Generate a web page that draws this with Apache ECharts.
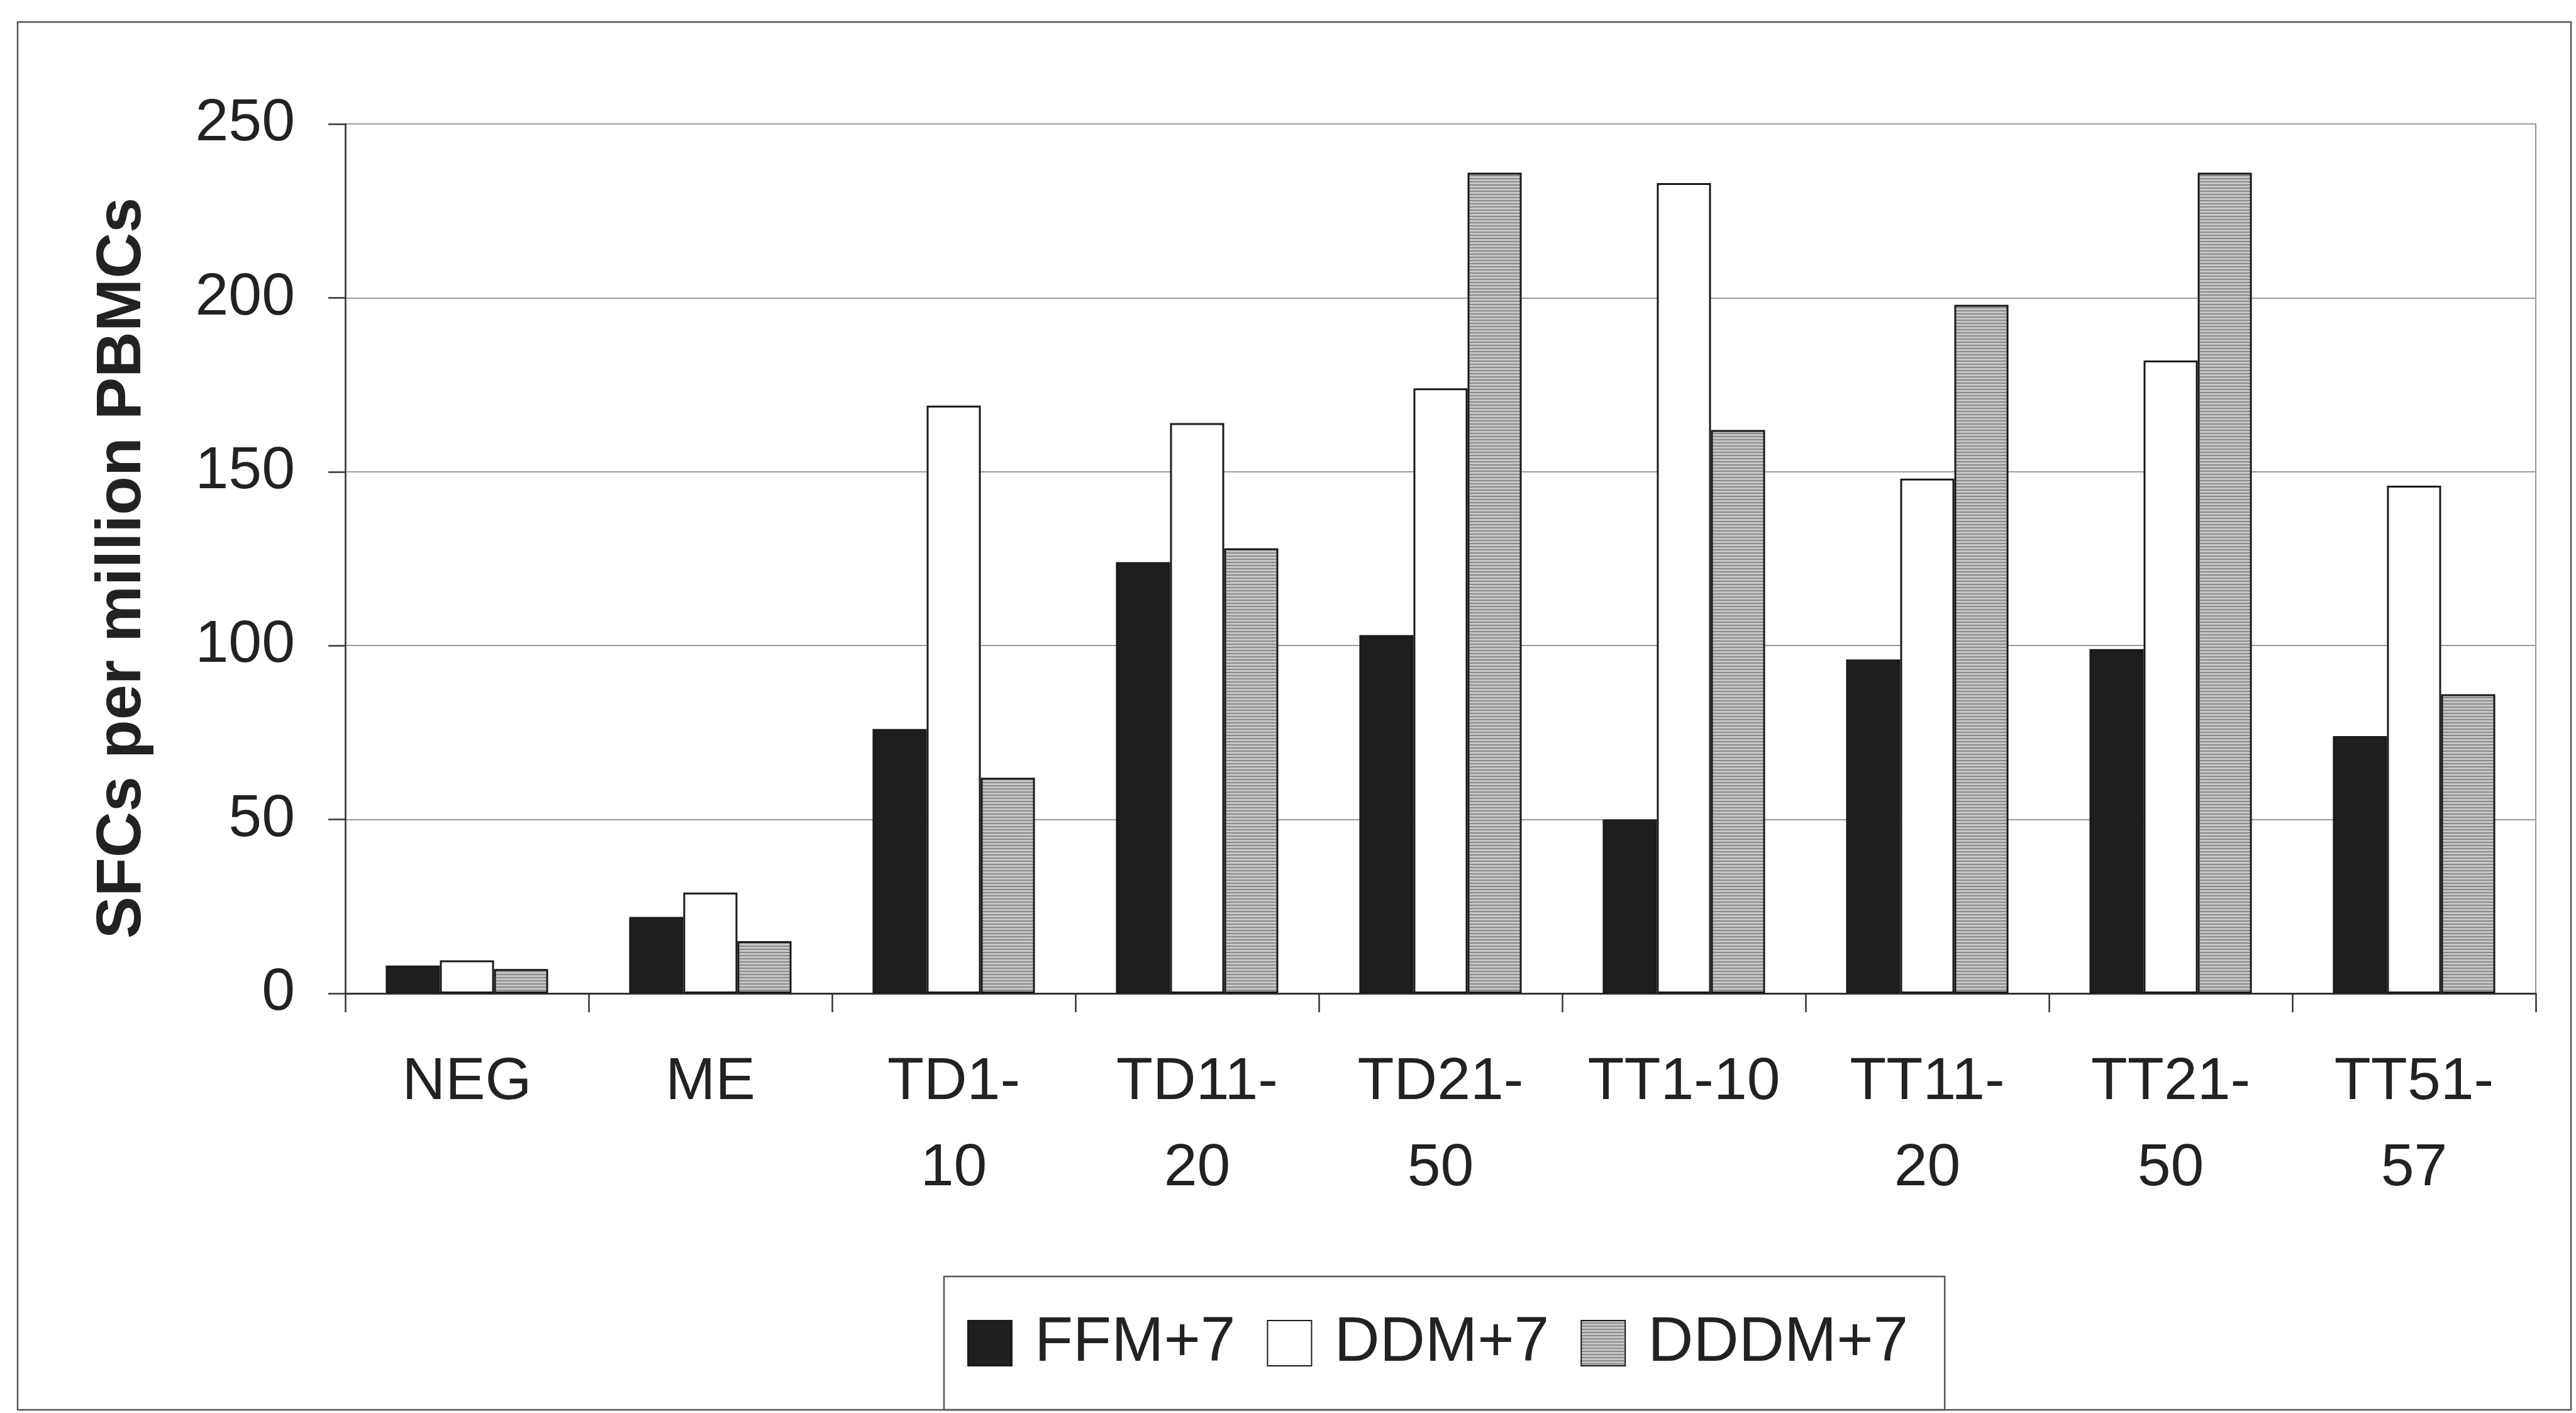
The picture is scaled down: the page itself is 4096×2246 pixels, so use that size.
<!DOCTYPE html>
<html>
<head>
<meta charset="utf-8">
<style>
  html, body { margin: 0; padding: 0; background: #ffffff; }
  #chart { width: 4096px; height: 2246px; }
</style>
<script src="https://cdn.jsdelivr.net/npm/echarts@6/dist/echarts.min.js"></script>
</head>
<body>
<div id="chart"></div>
<script>
// ---- data ----
const categories = ['NEG', 'ME', 'TD1-\n10', 'TD11-\n20', 'TD21-\n50', 'TT1-10', 'TT11-\n20', 'TT21-\n50', 'TT51-\n57'];
const seriesNames = ['FFM+7', 'DDM+7', 'DDDM+7'];
const ffm  = [8, 22, 76, 124, 103, 50, 96, 99, 74];
const ddm  = [9.5, 29, 169, 164, 174, 233, 148, 182, 146];
const dddm = [7, 15, 62, 128, 236, 162, 198, 236, 86];
const yTicks = { min: 0, max: 250, interval: 50 };
const yTitle = 'SFCs per million PBMCs';

// ---- striped fill for DDDM+7 ----
const pat = document.createElement('canvas');
pat.width = 4; pat.height = 5;
const pctx = pat.getContext('2d');
pctx.fillStyle = '#c6c6c6'; pctx.fillRect(0, 0, 4, 5);
pctx.fillStyle = '#8a8a8a'; pctx.fillRect(0, 3, 4, 2);

const FONT = '"Liberation Sans", Arial, sans-serif';
const chart = echarts.init(document.getElementById('chart'), null, { renderer: 'canvas' });

const barBase = { type: 'bar', barGap: '0%', barCategoryGap: '33.3%' };
const border = { borderColor: '#1a1a1a', borderWidth: 3 };

chart.setOption({
  animation: false,
  backgroundColor: '#ffffff',
  textStyle: { fontFamily: FONT },
  grid: {
    left: 549, right: 64, top: 197, bottom: 667,
    show: true, borderColor: '#9a9a9a', borderWidth: 2, backgroundColor: 'transparent'
  },
  legend: {
    data: seriesNames,
    icon: 'rect',
    left: 1501, top: 2029,
    orient: 'horizontal',
    itemWidth: 70, itemHeight: 72, itemGap: 50,
    padding: [56, 58, 56, 37],
    borderColor: '#555', borderWidth: 2.5,
    textStyle: { fontFamily: FONT, fontSize: 100, color: '#222', padding: [0, 0, 0, 31] }
  },
  xAxis: {
    type: 'category',
    data: categories,
    axisLine: { lineStyle: { color: '#333', width: 3 } },
    axisTick: { show: true, length: 30, lineStyle: { color: '#333', width: 2.5 } },
    axisLabel: { fontFamily: FONT, fontSize: 95, color: '#222', margin: 73, lineHeight: 137, interval: 0, align: 'center' },
    splitLine: { show: false }
  },
  yAxis: {
    type: 'value',
    min: yTicks.min, max: yTicks.max, interval: yTicks.interval,
    axisLine: { show: true, lineStyle: { color: '#333', width: 2.5 } },
    axisTick: { show: true, length: 27, lineStyle: { color: '#333', width: 2.5 } },
    axisLabel: { fontFamily: FONT, fontSize: 95, color: '#222', margin: 80 },
    splitLine: { show: true, lineStyle: { color: '#9a9a9a', width: 2 } }
  },
  graphic: [
    {
      type: 'rect', silent: true, z: -1,
      shape: { x: 28, y: 35, width: 4060, height: 2206 },
      style: { fill: 'none', stroke: '#555', lineWidth: 2.5 }
    },
    {
      type: 'text', silent: true,
      x: 195, y: 903, rotation: Math.PI / 2,
      style: {
        text: yTitle, fontFamily: FONT, fontWeight: 'bold', fontSize: 101,
        fill: '#222', align: 'center', verticalAlign: 'middle'
      }
    }
  ],
  series: [
    Object.assign({}, barBase, { name: seriesNames[0], data: ffm,  itemStyle: Object.assign({ color: '#1e1e1e' }, border) }),
    Object.assign({}, barBase, { name: seriesNames[1], data: ddm,  itemStyle: Object.assign({ color: '#ffffff' }, border) }),
    Object.assign({}, barBase, { name: seriesNames[2], data: dddm, itemStyle: Object.assign({ color: { image: pat, repeat: 'repeat' } }, border) })
  ]
});
</script>
</body>
</html>
